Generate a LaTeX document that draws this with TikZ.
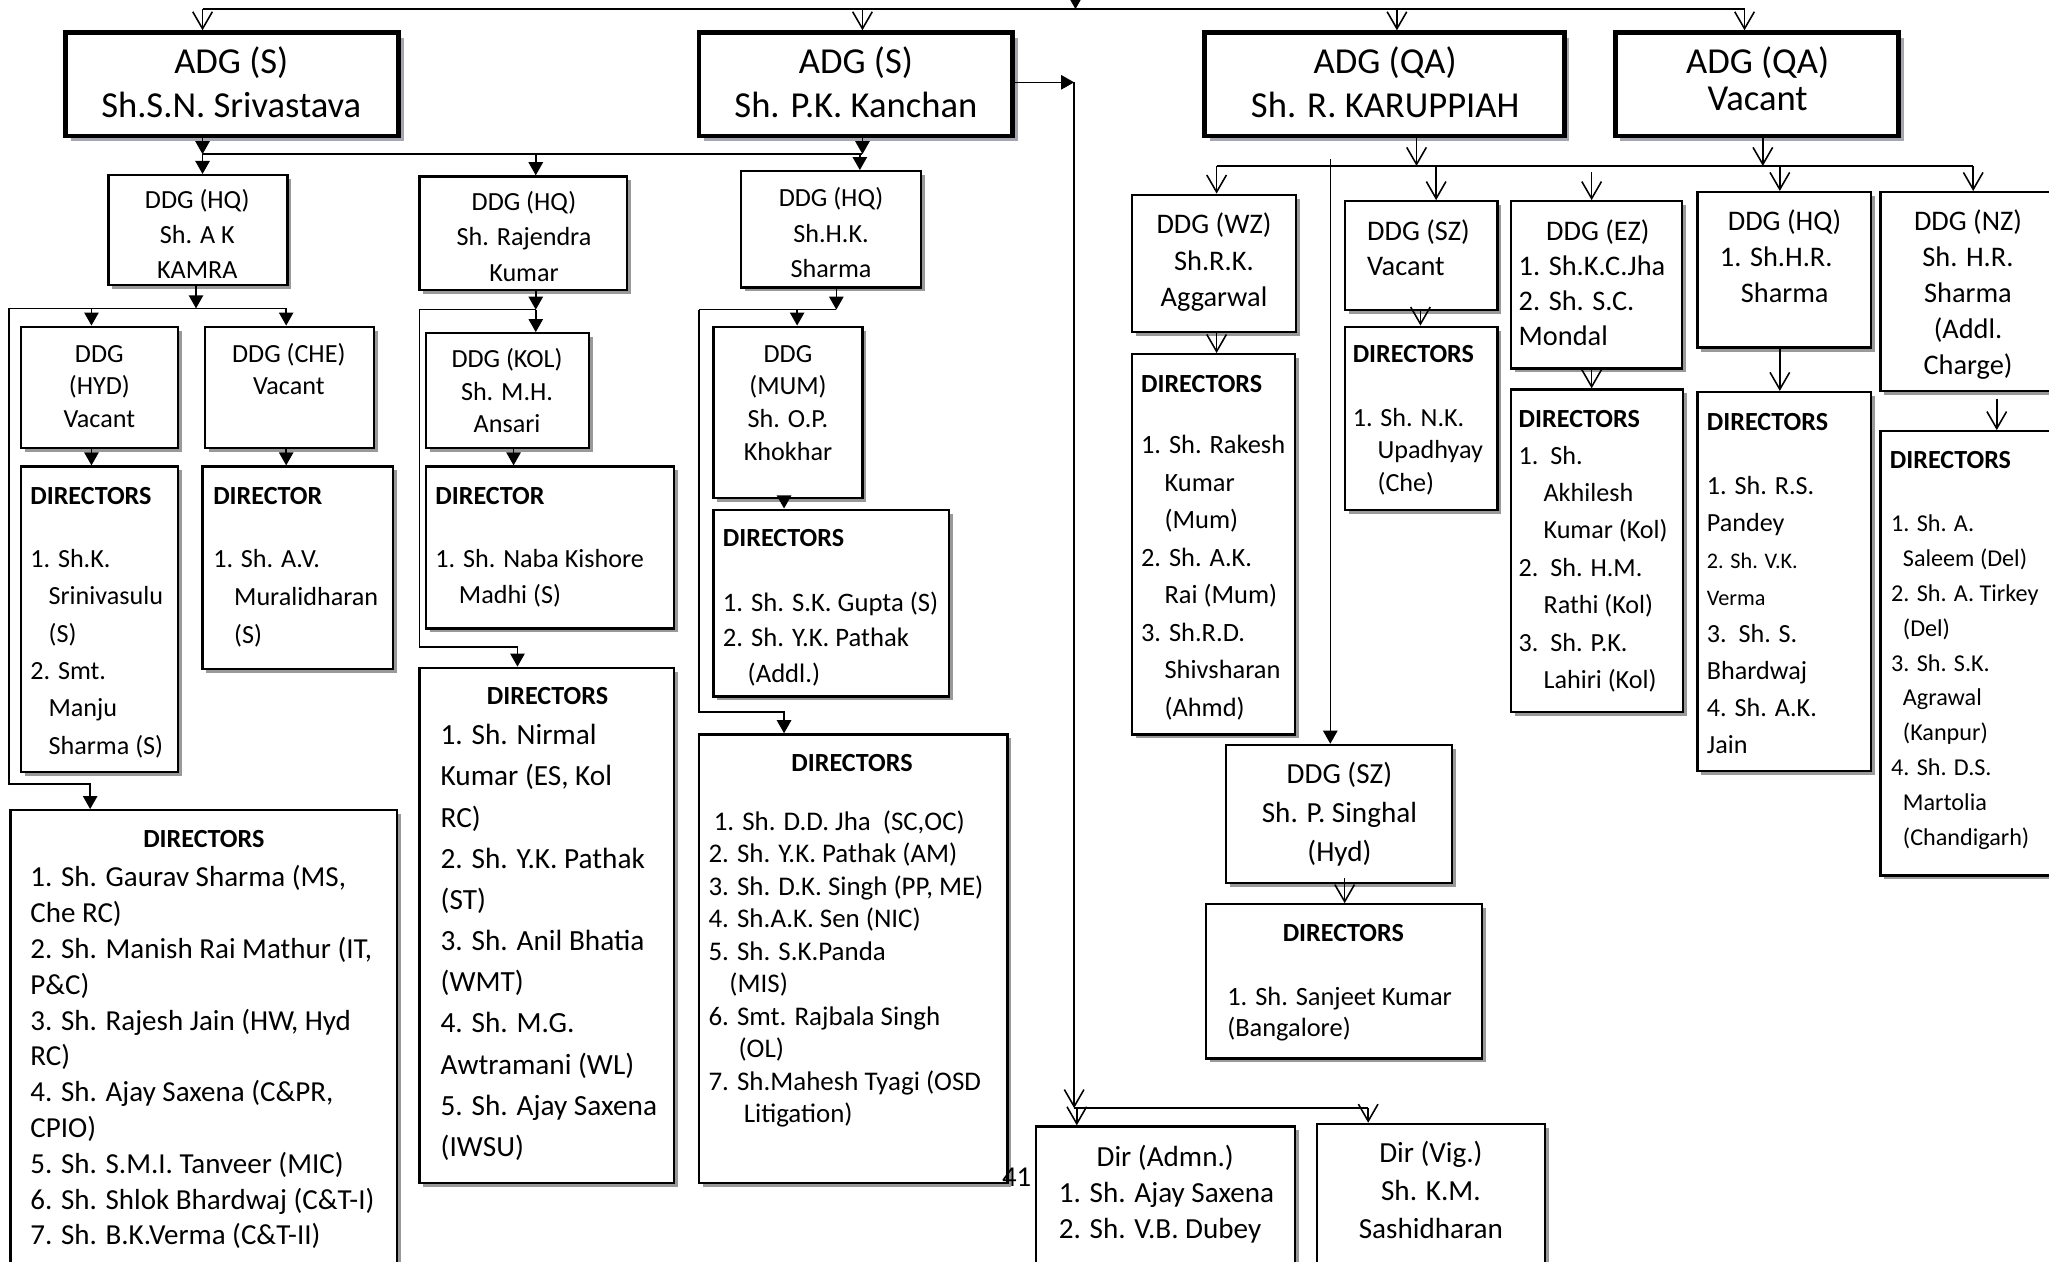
\documentclass[tikz,border=0pt]{standalone}
\usepackage{fontspec}
\setmainfont{Carlito}
\usetikzlibrary{arrows.meta,fit,shadows}
\newcommand\fz[2]{\fontsize{#1pt}{#2pt}\selectfont}
\newcommand\st{\rule{0pt}{1em}}
\newcommand\ind[1]{\hspace*{#1pt}}
\tikzset{
 bx/.style={draw, line width=1.7pt, fill=white, inner sep=0pt,
   general shadow={fill=black!40, shadow xshift=3pt, shadow yshift=-3pt}},
 abx/.style={draw, line width=3.6pt, fill=white, inner sep=0pt,
   general shadow={fill=blue!12!black!35, shadow xshift=4pt, shadow yshift=-4pt}},
 ln/.style={line width=1.2pt},
 fa/.style={ln, -{Triangle[length=10pt,width=11pt]}},
 oa/.style={ln, -{Straight Barb[length=13pt,width=15pt]}},
 tl/.style={inner sep=0pt, anchor=north west, align=left},
 tc/.style={inner sep=0pt, anchor=north, align=center},
 hd/.style={inner sep=0pt, font=\fz{20}{24}\bfseries},
}
\newcommand\B[6][bx]{\node[#1, fit={(#3,#4) (#5,#6)}] (#2) {};}
\begin{document}
\begin{tikzpicture}[x=1pt,y=-1pt]
\useasboundingbox (0,0) rectangle (1568,965);
\clip (0,0) rectangle (1568,965);
\fill[white] (0,0) rectangle (1568,965);

% ---------- boxes ----------
\B[abx]{a1}{50}{25}{305}{104}
\B[abx]{a2}{535}{25}{775}{104}
\B[abx]{a3}{922}{25}{1197}{104}
\B[abx]{a4}{1236}{25}{1453}{104}
\B{h1}{83}{134}{220}{218}
\B{h2}{321}{135}{480}{222}
\B{h3}{567}{131}{705}{220}
\B{hyd}{16}{250}{136}{343}
\B{che}{157}{250}{286}{343}
\B{hydd}{16}{357}{136}{591}
\B{ched}{155}{357}{301}{512}
\B{kol}{326}{255}{451}{343}
\B{kold}{326}{357}{516}{481}
\B{nird}{321}{511}{516}{905}
\B{mum}{546}{250}{660}{381}
\B{mumd}{546}{390}{726}{533}
\B{jhad}{535}{562}{771}{905}
\B{bld}{8}{620}{304}{985}
\B{adm}{793}{862}{991}{985}
\B{vig}{1008}{860}{1182}{985}
\B{wz}{866}{149}{992}{254}
\B{wzd}{866}{271}{991}{562}
\B{sz}{1029}{154}{1146}{237}
\B{szd}{1029}{250}{1146}{390}
\B{ez}{1156}{154}{1287}{282}
\B{ezd}{1156}{298}{1288}{545}
\B{hq}{1299}{147}{1432}{266}
\B{hqd}{1299}{300}{1432}{590}
\B{nz}{1439}{147}{1585}{299}
\B{nzd}{1439}{330}{1585}{670}
\B{szs}{938}{570}{1111}{676}
\B{szsd}{923}{692}{1134}{810}

% ---------- texts ----------
\node[tc, font=\fz{28}{33}] (a1t) at (177,28.4) {\st ADG (S)\\Sh.S.N. Srivastava};
\node[tc, font=\fz{28}{33}] (a2t) at (655,28.4) {\st ADG (S)\\Sh. P.K. Kanchan};
\node[tc, font=\fz{28}{33}] (a3t) at (1060,28.4) {\st ADG (QA)\\Sh. R. KARUPPIAH};
\node[tc, font=\fz{28}{28}] (a4t) at (1345,28.4) {\st ADG (QA)\\Vacant};

\begin{scope}
\clip (83,134) rectangle (220,217);
\node[tc, font=\fz{20}{27}] (h1t) at (151,139) {\st DDG (HQ)\\Sh. A K\\KAMRA};
\end{scope}
\begin{scope}
\clip (321,135) rectangle (480,221);
\node[tc, font=\fz{20}{27}] (h2t) at (401,141) {\st DDG (HQ)\\Sh. Rajendra\\Kumar};
\end{scope}
\node[tc, font=\fz{20}{27}] (h3t) at (636,138) {\st DDG (HQ)\\Sh.H.K.\\Sharma};
\node[tc, font=\fz{20}{25}] (hydt) at (76,257) {\st DDG\\(HYD)\\Vacant};
\node[tc, font=\fz{20}{25}] (chet) at (221,257) {\st DDG (CHE)\\Vacant};
\node[tc, font=\fz{20}{25}] (kolt) at (388,261) {\st DDG (KOL)\\Sh. M.H.\\Ansari};
\node[tc, font=\fz{20}{25}] (mumt) at (603,257) {\st DDG\\(MUM)\\Sh. O.P.\\Khokhar};

\node[hd, anchor=north west] (hyddh) at (23,366) {\st DIRECTORS};
\node[tl, font=\fz{20}{28.6}] (hyddl) at (23,414) {\st 1. Sh.K.\\\ind{14}Srinivasulu\\\ind{14}(S)\\2. Smt.\\\ind{14}Manju\\\ind{14}Sharma (S)};
\node[hd, anchor=north west] (chedh) at (163,366) {\st DIRECTOR};
\node[tl, font=\fz{20}{29}] (chedl) at (163,414) {\st 1. Sh. A.V.\\\ind{16}Muralidharan\\\ind{16}(S)};
\node[hd, anchor=north west] (koldh) at (333,366) {\st DIRECTOR};
\node[tl, font=\fz{20}{28}] (koldl) at (333,414) {\st 1. Sh. Naba Kishore\\\ind{18}Madhi (S)};
\node[hd, anchor=north] (nirdh) at (419,519) {\st DIRECTORS};
\node[tl, font=\fz{22.4}{31.5}] (nirdl) at (337,547.3) {\st 1. Sh. Nirmal\\Kumar (ES, Kol\\RC)\\2. Sh. Y.K. Pathak\\(ST)\\3. Sh. Anil Bhatia\\(WMT)\\4. Sh. M.G.\\Awtramani (WL)\\5. Sh. Ajay Saxena\\(IWSU)};
\node[hd, anchor=north west] (mumdh) at (553,398) {\st DIRECTORS};
\begin{scope}
\clip (546,390) rectangle (726,532);
\node[tl, font=\fz{20.4}{27.5}] (mumdl) at (553,447) {\st 1. Sh. S.K. Gupta (S)\\2. Sh. Y.K. Pathak\\\ind{19}(Addl.)};
\end{scope}
\node[hd, anchor=north] (jhadh) at (652,570) {\st DIRECTORS};
\node[tl, font=\fz{20.6}{24.9}] (jhadl) at (542,614.4) {\st \ind{4}1. Sh. D.D. Jha\ \ (SC,OC)\\2. Sh. Y.K. Pathak (AM)\\3. Sh. D.K. Singh (PP, ME)\\4. Sh.A.K. Sen (NIC)\\5. Sh. S.K.Panda\\\ind{16}(MIS)\\6. Smt. Rajbala Singh\\\ind{23}(OL)\\7. Sh.Mahesh Tyagi (OSD\\\ind{27}Litigation)};
\node[hd, anchor=north] (bldh) at (156,628) {\st DIRECTORS};
\node[tl, font=\fz{22.2}{27.4}] (bldl) at (23,656.3) {\st 1. Sh. Gaurav Sharma (MS,\\Che RC)\\2. Sh. Manish Rai Mathur (IT,\\P\&C)\\3. Sh. Rajesh Jain (HW, Hyd\\RC)\\4. Sh. Ajay Saxena (C\&PR,\\CPIO)\\5. Sh. S.M.I. Tanveer (MIC)\\6. Sh. Shlok Bhardwaj (C\&T-I)\\7. Sh. B.K.Verma (C\&T-II)};
\node[tl, font=\fz{22.3}{27.5}] (admt) at (810,870.4) {\st \ind{29}Dir (Admn.)\\1. Sh. Ajay Saxena\\2. Sh. V.B. Dubey};
\node[tc, font=\fz{22.3}{29}] (vigt) at (1095,867.4) {\st Dir (Vig.)\\Sh. K.M.\\Sashidharan};
\node[inner sep=0pt, font=\fz{22}{26}] (pgno) at (778,901) {41};

\node[tc, font=\fz{21.7}{28}] (wzt) at (929,156.8) {\st DDG (WZ)\\Sh.R.K.\\Aggarwal};
\node[hd, anchor=north west] (wzdh) at (873,280) {\st DIRECTORS};
\node[tl, font=\fz{20.2}{28.7}] (wzdl) at (873,326.9) {\st 1. Sh. Rakesh\\\ind{18}Kumar\\\ind{18}(Mum)\\2. Sh. A.K.\\\ind{18}Rai (Mum)\\3. Sh.R.D.\\\ind{18}Shivsharan\\\ind{18}(Ahmd)};
\node[tl, font=\fz{21.7}{27}] (szt) at (1046,161.8) {\st DDG (SZ)\\Vacant};
\node[hd, anchor=north west] (szdh) at (1035,257) {\st DIRECTORS};
\node[tl, font=\fz{20}{25}] (szdl) at (1035,306) {\st 1. Sh. N.K.\\\ind{19}Upadhyay\\\ind{19}(Che)};
\node[tl, font=\fz{21.7}{27}] (ezt) at (1162,161.8) {\st \ind{21}DDG (EZ)\\1. Sh.K.C.Jha\\2. Sh. S.C.\\Mondal};
\node[hd, anchor=north west] (ezdh) at (1162,307) {\st DIRECTORS};
\node[tl, font=\fz{20}{28.6}] (ezdl) at (1162,335) {\st 1.\ \ Sh.\\\ind{19}Akhilesh\\\ind{19}Kumar (Kol)\\2.\ \ Sh. H.M.\\\ind{19}Rathi (Kol)\\3.\ \ Sh. P.K.\\\ind{19}Lahiri (Kol)};
\node[tl, font=\fz{21.7}{27.5}] (hqt) at (1316,154.8) {\st \ind{6}DDG (HQ)\\1. Sh.H.R.\\\ind{16}Sharma};
\node[hd, anchor=north west] (hqdh) at (1306,309) {\st DIRECTORS};
\node[tl, font=\fz{20}{28.3}] (hqdl) at (1306,358) {\st 1. Sh. R.S.\\Pandey\\{\fz{17}{28.3}2. Sh. V.K.}\\{\fz{17}{28.3}Verma}\\3.\ \ Sh. S.\\Bhardwaj\\4. Sh. A.K.\\Jain};
\node[tc, font=\fz{21.7}{27.5}] (nzt) at (1506,154.8) {\st DDG (NZ)\\Sh. H.R.\\Sharma\\(Addl.\\Charge)};
\node[hd, anchor=north west] (nzdh) at (1446,338) {\st DIRECTORS};
\node[tl, font=\fz{18.5}{26.7}] (nzdl) at (1447,388) {\st 1. Sh. A.\\\ind{9}Saleem (Del)\\2. Sh. A. Tirkey\\\ind{9}(Del)\\3. Sh. S.K.\\\ind{9}Agrawal\\\ind{9}(Kanpur)\\4. Sh. D.S.\\\ind{9}Martolia\\\ind{9}(Chandigarh)};
\node[tc, font=\fz{22.3}{29.5}] (szst) at (1025,577.4) {\st DDG (SZ)\\Sh. P. Singhal\\(Hyd)};
\node[hd, anchor=north] (szsdh) at (1028,700) {\st DIRECTORS};
\node[tl, font=\fz{20.2}{24}] (szsdl) at (939,749) {\st 1. Sh. Sanjeet Kumar\\(Bangalore)};

% ---------- connectors ----------
\coordinate (tin) at (823,-8);
\coordinate (tm) at (823,7);
\coordinate (tl) at (155,7);
\coordinate (t2) at (660,7);
\coordinate (t3) at (1069,7);
\coordinate (tr) at (1335,7);
\draw[fa] (tin) -- (tm);
\draw[ln] (tl) -- (tr);
\draw[oa] (tl) -- (tl |- a1.north);
\draw[oa] (t2) -- (t2 |- a2.north);
\draw[oa] (t3) -- (t3 |- a3.north);
\draw[oa] (tr) -- (tr |- a4.north);

% ADG(S) level
\coordinate (j1) at (155,118);
\coordinate (j1m) at (410,118);
\coordinate (j1s) at (658,118);
\coordinate (j1r) at (660,118);
\draw[fa] (j1 |- a1.south) -- (j1);
\draw[fa] (j1r |- a2.south) -- (j1r);
\draw[ln] (j1) -- (j1r);
\draw[fa] (j1) -- (j1 |- h1.north);
\draw[fa] (j1m) -- (j1m |- h2.north);
\draw[fa] (j1s) -- (j1s |- h3.north);

% under DDG(HQ) Kamra
\coordinate (k1) at (150,236);
\coordinate (k1l) at (7,236);
\coordinate (k1a) at (70,236);
\coordinate (k1r) at (219,236);
\coordinate (k1b) at (69,600);
\draw[fa] (k1 |- h1.south) -- (k1);
\draw[ln] (k1l) -- (k1r);
\draw[fa] (k1a) -- (k1a |- hyd.north);
\draw[fa] (k1r) -- (k1r |- che.north);
\draw[fa] (k1a |- hyd.south) -- (k1a |- hydd.north);
\draw[fa] (k1r |- che.south) -- (k1r |- ched.north);
\draw[fa] (k1l) |- (k1b) -- (k1b |- bld.north);

% under DDG(HQ) Rajendra
\coordinate (m1) at (410,237);
\coordinate (m1l) at (321,237);
\coordinate (m2) at (393,350);
\coordinate (m3) at (396,495);
\draw[fa] (m1 |- h2.south) -- (m1);
\draw[ln] (m1l) -- (m1);
\draw[fa] (m1) -- (m1 |- kol.north);
\draw[fa] (m2 |- kol.south) -- (m2 |- kold.north);
\draw[fa] (m1l) |- (m3) -- (m3 |- nird.north);

% under DDG(HQ) H.K. Sharma
\coordinate (n1) at (640,237);
\coordinate (n1l) at (535,237);
\coordinate (n1a) at (610,237);
\coordinate (n2) at (600,385);
\coordinate (n3) at (600,545);
\draw[fa] (n1 |- h3.south) -- (n1);
\draw[ln] (n1l) -- (n1);
\draw[fa] (n1a) -- (n1a |- mum.north);
\draw[fa] (n2 |- mum.south) -- (n2 |- mumd.north);
\draw[fa] (n1l) |- (n3) -- (n3 |- jhad.north);

% Kanchan to Dir boxes
\coordinate (p1) at (822,63);
\coordinate (p2) at (822,848);
\coordinate (p3) at (1047,848);
\coordinate (p2a) at (824,848);
\draw[fa] (p1 -| a2.east) -- (p1);
\draw[oa] (p1) -- (p2);
\draw[ln] (p2) -- (p3);
\draw[oa] (p2a) -- (p2a |- adm.north);
\draw[oa] (p3) -- (p3 |- vig.north);

% ADG(QA) level
\coordinate (q1) at (1084,127);
\coordinate (q2) at (1349,127);
\coordinate (ql) at (931,127);
\coordinate (qr) at (1510,127);
\coordinate (qsz) at (1099,127);
\coordinate (qez) at (1218,132);
\coordinate (qhq) at (1362,127);
\coordinate (qv) at (1018,122);
\draw[oa] (q1 |- a3.south) -- (q1);
\draw[oa] (q2 |- a4.south) -- (q2);
\draw[ln] (ql) -- (qr);
\draw[oa] (ql) -- (ql |- wz.north);
\draw[oa] (qsz) -- (qsz |- sz.north);
\draw[oa] (qez) -- (qez |- ez.north);
\draw[oa] (qhq) -- (qhq |- hq.north);
\draw[oa] (qr) -- (qr |- nz.north);
\draw[fa] (qv) -- (qv |- szs.north);

\coordinate (r1) at (931,260);
\coordinate (r2) at (1087,240);
\coordinate (r3) at (1218,290);
\coordinate (r4) at (1362,280);
\coordinate (r5) at (1528,305);
\coordinate (r6) at (1029,672);
\draw[oa] (r1 |- wz.south) -- (r1 |- wzd.north);
\draw[oa] (r2 |- sz.south) -- (r2 |- szd.north);
\draw[oa] (r3 |- ez.south) -- (r3 |- ezd.north);
\draw[oa] (r4 |- hq.south) -- (r4 |- hqd.north);
\draw[oa] (r5) -- (r5 |- nzd.north);
\draw[oa] (r6) -- (r6 |- szsd.north);
\end{tikzpicture}
\end{document}
